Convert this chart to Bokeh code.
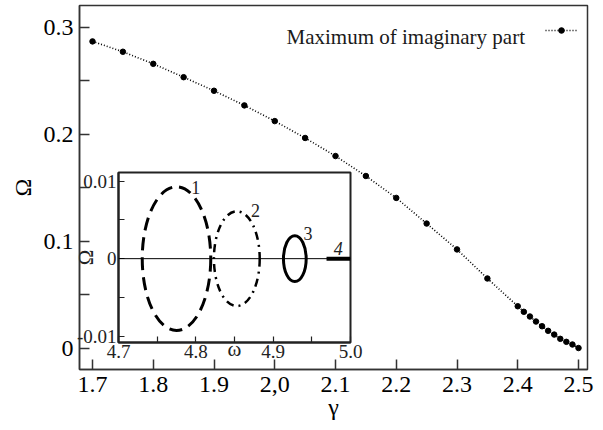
from bokeh.plotting import figure
from bokeh.models import FixedTicker, Range1d, Span, Label, Legend, LegendItem
from bokeh.embed import file_html
from bokeh.resources import INLINE
from bokeh.core.properties import value

# ---------------- data (main panel) ----------------
gamma = [1.70, 1.75, 1.80, 1.85, 1.90, 1.95, 2.00, 2.05, 2.10, 2.15, 2.20,
         2.25, 2.30, 2.35, 2.40, 2.41, 2.42, 2.43, 2.44, 2.45, 2.46, 2.47,
         2.48, 2.49, 2.50]
omega_max = [0.287, 0.2773, 0.266, 0.2535, 0.2408, 0.2271, 0.2124, 0.1966,
             0.1797, 0.161, 0.1405, 0.1165, 0.0923, 0.0651, 0.0391, 0.0339,
             0.0295, 0.0248, 0.0204, 0.0161, 0.0126, 0.0086, 0.0058, 0.0033,
             0.0]
series_name = "Maximum of imaginary part"

x_ticks = [1.7, 1.8, 1.9, 2.0, 2.1, 2.2, 2.3, 2.4, 2.5]
x_tick_labels = ["1.7", "1.8", "1.9", "2,0", "2.1", "2.2", "2.3", "2.4", "2.5"]
y_ticks = [0.0, 0.1, 0.2, 0.3]
y_tick_labels = ["0", "0.1", "0.2", "0.3"]
y_minor_ticks = [0.05, 0.15, 0.25]

# ---------------- data (inset) ----------------
curve_ids = ["1", "2", "3", "4"]
ell_center = [4.775, 4.853, 4.928]
ell_halfwidth = [0.0443, 0.0296, 0.0147]
ell_halfheight = [0.00925, 0.0061, 0.00295]
curve4_omega = [4.969, 5.0]
curve4_Omega = [0.0, 0.0]
curve_label_omega = [4.800, 4.877, 4.945, 4.984]
curve_label_Omega = [0.0092, 0.0062, 0.0032, 0.0013]

inset_x_ticks = [4.7, 4.8, 4.9, 5.0]
inset_x_tick_labels = ["4.7", "4.8", "4.9", "5.0"]
inset_x_minor = [4.75, 4.85, 4.95]
inset_y_ticks = [-0.01, 0.0, 0.01]
inset_y_tick_labels = ["-0.01", "0", "0.01"]
inset_y_minor = [-0.005, 0.005]

SERIF = "'Liberation Serif', 'Times New Roman', serif"
AX = "#333333"

# ---------------- main figure ----------------
p = figure(width=595, height=425, title=None,
           x_range=Range1d(1.6786, 2.5148), y_range=Range1d(-0.0201, 0.3206),
           output_backend="svg", toolbar_location=None,
           min_border_left=79, min_border_right=8, min_border_top=5,
           min_border_bottom=56)
p.styles = {"position": "absolute", "left": "0px", "top": "0px"}
p.xgrid.grid_line_color = None
p.ygrid.grid_line_color = None
p.outline_line_color = AX
p.outline_line_width = 1.5

for ax in (p.xaxis[0], p.yaxis[0]):
    ax.axis_line_color = AX
    ax.axis_line_width = 1.5
    ax.major_tick_line_color = AX
    ax.minor_tick_line_color = AX
    ax.major_tick_line_width = 1.5
    ax.minor_tick_line_width = 1.5
    ax.major_tick_in = 10
    ax.major_tick_out = 0
    ax.major_label_text_font = SERIF
    ax.major_label_text_font_size = "24px"
    ax.major_label_text_color = "black"
    ax.axis_label_text_font = SERIF
    ax.axis_label_text_font_size = "24px"
    ax.axis_label_text_font_style = "normal"
    ax.axis_label_text_color = "black"

p.xaxis.ticker = FixedTicker(ticks=x_ticks)
p.xaxis.major_label_overrides = dict(zip(x_ticks, x_tick_labels))
p.xaxis.minor_tick_in = 0
p.xaxis.minor_tick_out = 0
p.xaxis.major_label_standoff = 7
p.xaxis.axis_label = "γ"
p.xaxis.axis_label_standoff = -1

p.yaxis.ticker = FixedTicker(ticks=y_ticks, minor_ticks=y_minor_ticks)
p.yaxis.major_label_overrides = dict(zip(y_ticks, y_tick_labels))
p.yaxis.minor_tick_in = 10
p.yaxis.minor_tick_out = 0
p.yaxis.major_label_standoff = 6
p.yaxis.axis_label = "Ω"
p.yaxis.axis_label_standoff = 5

line = p.line(gamma, omega_max, line_color="black", line_width=1.6,
              line_dash="1 2")
pts = p.scatter(gamma, omega_max, size=5.5, fill_color="black",
                line_color="black")

# legend sample (dotted line with a dot), text drawn to its left as in the original
legend = Legend(items=[LegendItem(label=value(""), renderers=[line, pts])],
                location=(466, 332), margin=0, padding=0, spacing=0,
                label_width=0, label_standoff=0, label_height=14,
                label_text_font_size="1px",
                glyph_width=32, glyph_height=14,
                background_fill_alpha=0, border_line_alpha=0)
p.add_layout(legend)
p.add_layout(Label(x=2.0193, y=0.2909, text=series_name,
                   text_font=SERIF, text_font_size="21px",
                   text_color="#1a1a1a", text_align="left",
                   text_baseline="alphabetic"))

# ---------------- inset figure ----------------
ins = figure(width=321, height=212, title=None,
             x_range=Range1d(4.7, 5.0), y_range=Range1d(-0.0108, 0.0111),
             output_backend="svg", toolbar_location=None,
             min_border_left=75, min_border_right=14, min_border_top=12,
             min_border_bottom=30)
ins.styles = {"position": "absolute", "left": "43px", "top": "160px"}
ins.background_fill_color = "white"
ins.border_fill_color = None
ins.border_fill_alpha = 0
ins.xgrid.grid_line_color = None
ins.ygrid.grid_line_color = None
ins.outline_line_color = "#222222"
ins.outline_line_width = 2

for ax in (ins.xaxis[0], ins.yaxis[0]):
    ax.axis_line_color = "#222222"
    ax.axis_line_width = 2
    ax.major_tick_line_color = "#222222"
    ax.minor_tick_line_color = "#222222"
    ax.major_tick_line_width = 1.2
    ax.minor_tick_line_width = 1.2
    ax.major_tick_in = 6
    ax.major_tick_out = 0
    ax.minor_tick_in = 6
    ax.minor_tick_out = 0
    ax.major_label_text_font = SERIF
    ax.major_label_text_font_size = "19px"
    ax.major_label_text_color = "#222222"
    ax.major_label_standoff = 2
    ax.axis_label_text_font = SERIF
    ax.axis_label_text_font_size = "21px"
    ax.axis_label_text_font_style = "normal"
    ax.axis_label_text_color = "#222222"

ins.xaxis.ticker = FixedTicker(ticks=inset_x_ticks, minor_ticks=inset_x_minor)
ins.xaxis.major_label_overrides = dict(zip(inset_x_ticks, inset_x_tick_labels))
ins.xaxis.axis_label = "ω"
ins.xaxis.axis_label_standoff = -24

ins.yaxis.ticker = FixedTicker(ticks=inset_y_ticks, minor_ticks=inset_y_minor)
ins.yaxis.major_label_overrides = dict(zip(inset_y_ticks, inset_y_tick_labels))
ins.yaxis.axis_label = "Ω"
ins.yaxis.axis_label_standoff = -24

ins.add_layout(Span(location=0, dimension="width", line_color="black",
                    line_width=1))

ell_styles = [dict(line_width=3, line_dash="13 7"),
              dict(line_width=2.5, line_dash="8 5 2 5"),
              dict(line_width=3, line_dash="solid")]
for i, st in enumerate(ell_styles):
    ins.ellipse(x=[ell_center[i]], y=[0.0],
                width=[2 * ell_halfwidth[i]], height=[2 * ell_halfheight[i]],
                fill_alpha=0, line_color="black", **st)

ins.line(curve4_omega, curve4_Omega, line_color="black", line_width=4)

for i, cid in enumerate(curve_ids):
    ins.add_layout(Label(x=curve_label_omega[i], y=curve_label_Omega[i],
                         text=cid, text_font=SERIF, text_font_size="18px",
                         text_font_style="italic" if cid == "4" else "normal",
                         text_color="#222222", text_align="center",
                         text_baseline="middle"))

open("out.html", "w").write(file_html([p, ins], INLINE))
